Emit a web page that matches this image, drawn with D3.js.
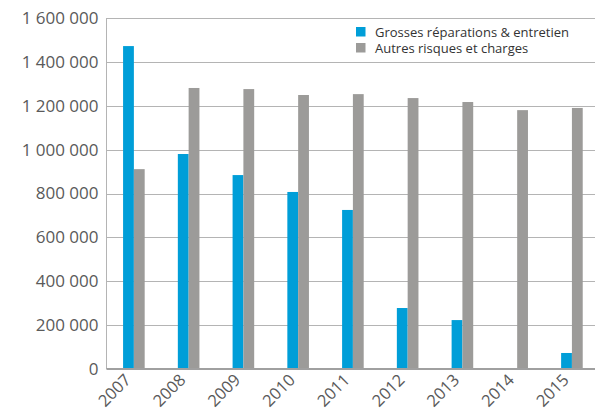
<!DOCTYPE html>
<html><head><meta charset="utf-8">
<script src="https://cdn.jsdelivr.net/npm/d3@7"></script>
<style>
html,body{margin:0;padding:0;background:#fff;}
svg{display:block;font-family:"Open Sans",sans-serif;}
</style></head>
<body><svg id="c" width="595" height="413"></svg>
<script>
const years = ["2007","2008","2009","2010","2011","2012","2013","2014","2015"];
const grosses = [1472000, 980000, 884000, 807000, 725000, 278000, 223000, 0, 73000];
const autres = [911000, 1281000, 1276000, 1249000, 1253000, 1235000, 1217000, 1180000, 1190000];
const seriesNames = ["Grosses réparations & entretien", "Autres risques et charges"];
const yTicks = [0, 200000, 400000, 600000, 800000, 1000000, 1200000, 1400000, 1600000];
const colors = ["#009ed8", "#9c9b99"];

const svg = d3.select("#c");
const m = {left: 106.5, top: 18, bottom: 369};
const plotRight = 599.3;
const x = d3.scaleBand().domain(years).range([m.left, plotRight]).paddingInner(0).paddingOuter(0);
const y = d3.scaleLinear().domain([0, 1600000]).range([m.bottom, m.top]);
const fmt = v => d3.format(",")(v).replace(/,/g, "\u00a0");

// gridlines
svg.append("g").selectAll("line").data(yTicks.filter(d => d > 0)).join("line")
  .attr("x1", m.left).attr("x2", 595)
  .attr("y1", d => Math.round(y(d)) + 0.5).attr("y2", d => Math.round(y(d)) + 0.5)
  .attr("stroke", "#b4b4b4").attr("stroke-width", 1);

// y axis labels
const yAxis = d3.axisLeft(y).tickValues(yTicks).tickFormat(fmt).tickSize(0).tickPadding(8);
const ga = svg.append("g").attr("transform", `translate(${m.left},0)`).call(yAxis);
ga.select(".domain").remove();
ga.selectAll("text").attr("fill", "#5a5a5a").attr("font-size", "17px").attr("font-family", "Open Sans, sans-serif");

// bars
const bw = 10.8;
const gx = d => x(d) + x.bandwidth() / 2;
svg.append("g").selectAll("rect").data(years).join("rect")
  .attr("x", d => gx(d) - bw).attr("width", bw)
  .attr("y", (d, i) => y(grosses[i])).attr("height", (d, i) => y(0) - y(grosses[i]))
  .attr("fill", colors[0]);
svg.append("g").selectAll("rect").data(years).join("rect")
  .attr("x", d => gx(d)).attr("width", bw)
  .attr("y", (d, i) => y(autres[i])).attr("height", (d, i) => y(0) - y(autres[i]))
  .attr("fill", colors[1]);

// axes lines
svg.append("line").attr("x1", m.left).attr("x2", m.left).attr("y1", m.top).attr("y2", m.bottom)
  .attr("stroke", "#b4b4b4").attr("stroke-width", 1);
svg.append("line").attr("x1", m.left).attr("x2", 595).attr("y1", m.bottom).attr("y2", m.bottom)
  .attr("stroke", "#a0a0a0").attr("stroke-width", 2);

// x labels
const xAxis = d3.axisBottom(x).tickSize(0).tickPadding(0);
const gxA = svg.append("g").attr("transform", `translate(0,${m.bottom})`).call(xAxis);
gxA.select(".domain").remove();
gxA.selectAll("text")
  .attr("fill", "#5a5a5a").attr("font-size", "16.5px").attr("font-family", "Open Sans, sans-serif")
  .attr("text-anchor", "end").attr("dy", null).attr("y", 0)
  .attr("transform", "translate(-2,12) rotate(-45)");

// legend
const lg = svg.append("g").attr("transform", "translate(356,27)");
seriesNames.forEach((n, i) => {
  const r = lg.append("g").attr("transform", `translate(0,${i * 16})`);
  r.append("rect").attr("width", 9.5).attr("height", 9.5).attr("fill", colors[i]);
  r.append("text").attr("x", 19).attr("y", 9.5).attr("font-size", "13px")
    .attr("fill", "#333").text(n);
});
</script></body></html>
